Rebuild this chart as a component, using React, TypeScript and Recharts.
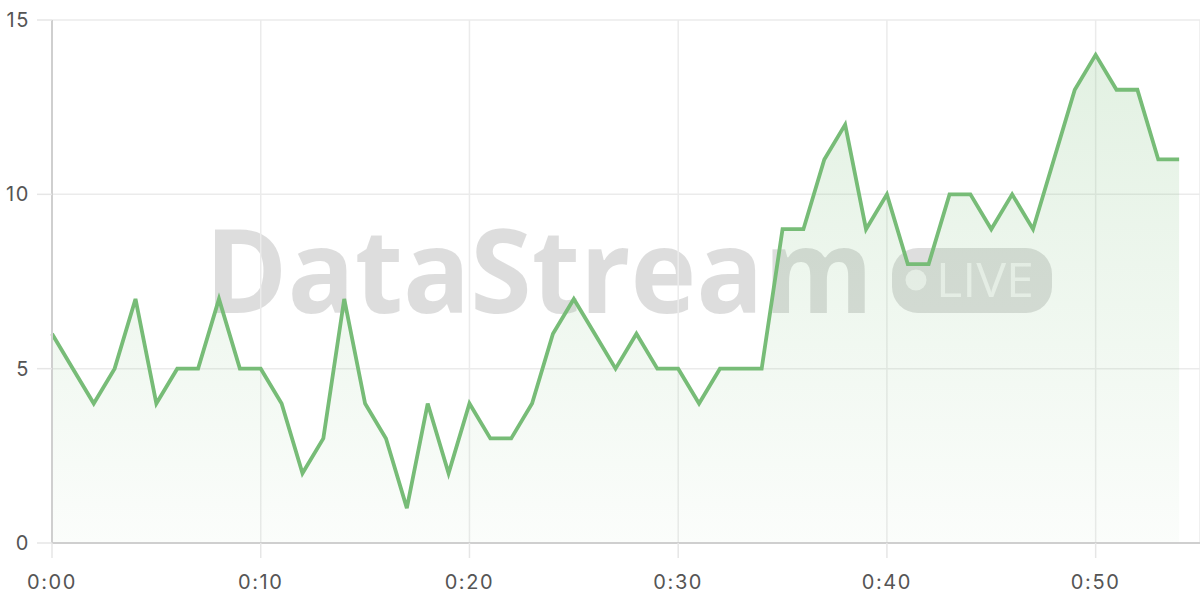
import React from 'react';
import { AreaChart, Area, XAxis, YAxis, CartesianGrid } from 'recharts';

const minutes = [0, 1, 2, 3, 4, 5, 6, 7, 8, 9, 10, 11, 12, 13, 14, 15, 16, 17, 18, 19, 20, 21, 22, 23, 24, 25, 26, 27, 28, 29, 30, 31, 32, 33, 34, 35, 36, 37, 38, 39, 40, 41, 42, 43, 44, 45, 46, 47, 48, 49, 50, 51, 52, 53, 54];
const values = [6, 5, 4, 5, 7, 4, 5, 5, 7, 5, 5, 4, 2, 3, 7, 4, 3, 1, 4, 2, 4, 3, 3, 4, 6, 7, 6, 5, 6, 5, 5, 4, 5, 5, 5, 9, 9, 11, 12, 9, 10, 8, 8, 10, 10, 9, 10, 9, 11, 13, 14, 13, 13, 11, 11];
const xTicks = [0, 10, 20, 30, 40, 50];
const yTicks = [0, 5, 10, 15];

const data = minutes.map((m, i) => ({ t: m, v: values[i] }));

const fmtTime = (m: number) => `${Math.floor(m / 60)}:${String(m % 60).padStart(2, '0')}`;

const LINE = '#77bc77';
const tickFont = { fontFamily: 'Inter, sans-serif', fontSize: 20, fill: '#555', letterSpacing: 1.6 };

export default function App() {
  return (
    <div style={{ position: 'absolute', left: 0, top: 0, width: 1200, height: 600, background: '#fff', overflow: 'hidden' }}>
      <svg width={1200} height={600} style={{ position: 'absolute', left: 0, top: 0 }}>
        <text
          x={205}
          y={313}
          fontFamily="Open Sans, sans-serif"
          fontWeight={700}
          fontSize={116}
          fill="#000"
          fillOpacity={0.135}
          textLength={668}
          lengthAdjust="spacingAndGlyphs"
        >
          DataStream
        </text>
        <rect x={892} y={248} width={160} height={65} rx={26} ry={26} fill="#000" fillOpacity={0.13} />
        <circle cx={916} cy={280} r={10.5} fill="#fff" fillOpacity={0.65} />
        <text x={936} y={297} fontFamily="Open Sans, sans-serif" fontWeight={500} fontSize={47} fill="#fff" fillOpacity={0.65} textLength={98} lengthAdjust="spacingAndGlyphs">
          LIVE
        </text>
      </svg>
      <div style={{ position: 'absolute', left: 0, top: 0 }}>
        <AreaChart width={1200} height={600} data={data} margin={{ top: 20, right: 0, left: 0, bottom: 27 }}>
          <defs>
            <linearGradient id="areaFill" x1="0" y1="0" x2="0" y2="1">
              <stop offset="0%" stopColor={LINE} stopOpacity={0.35} />
              <stop offset="100%" stopColor={LINE} stopOpacity={0.05} />
            </linearGradient>
          </defs>
          <CartesianGrid stroke="#ebebeb" strokeWidth={1.5} />
          <XAxis
            dataKey="t"
            type="number"
            domain={[0, 55]}
            ticks={xTicks}
            tickFormatter={fmtTime}
            axisLine={{ stroke: '#cfcfcf', strokeWidth: 2 }}
            tickLine={{ stroke: '#e6e6e6', strokeWidth: 1.5 }}
            tickSize={15}
            tickMargin={17}
            tick={tickFont}
            height={30}
            interval={0}
          />
          <YAxis
            type="number"
            domain={[0, 15]}
            ticks={yTicks}
            axisLine={{ stroke: '#cfcfcf', strokeWidth: 2 }}
            tickLine={{ stroke: '#e6e6e6', strokeWidth: 1.5 }}
            tickSize={15}
            tickMargin={7}
            tick={tickFont}
            width={52}
            interval={0}
          />
          <Area
            type="linear"
            dataKey="v"
            stroke={LINE}
            strokeWidth={3.8}
            fill="url(#areaFill)"
            dot={false}
            activeDot={false}
            isAnimationActive={false}
          />
        </AreaChart>
      </div>
    </div>
  );
}
